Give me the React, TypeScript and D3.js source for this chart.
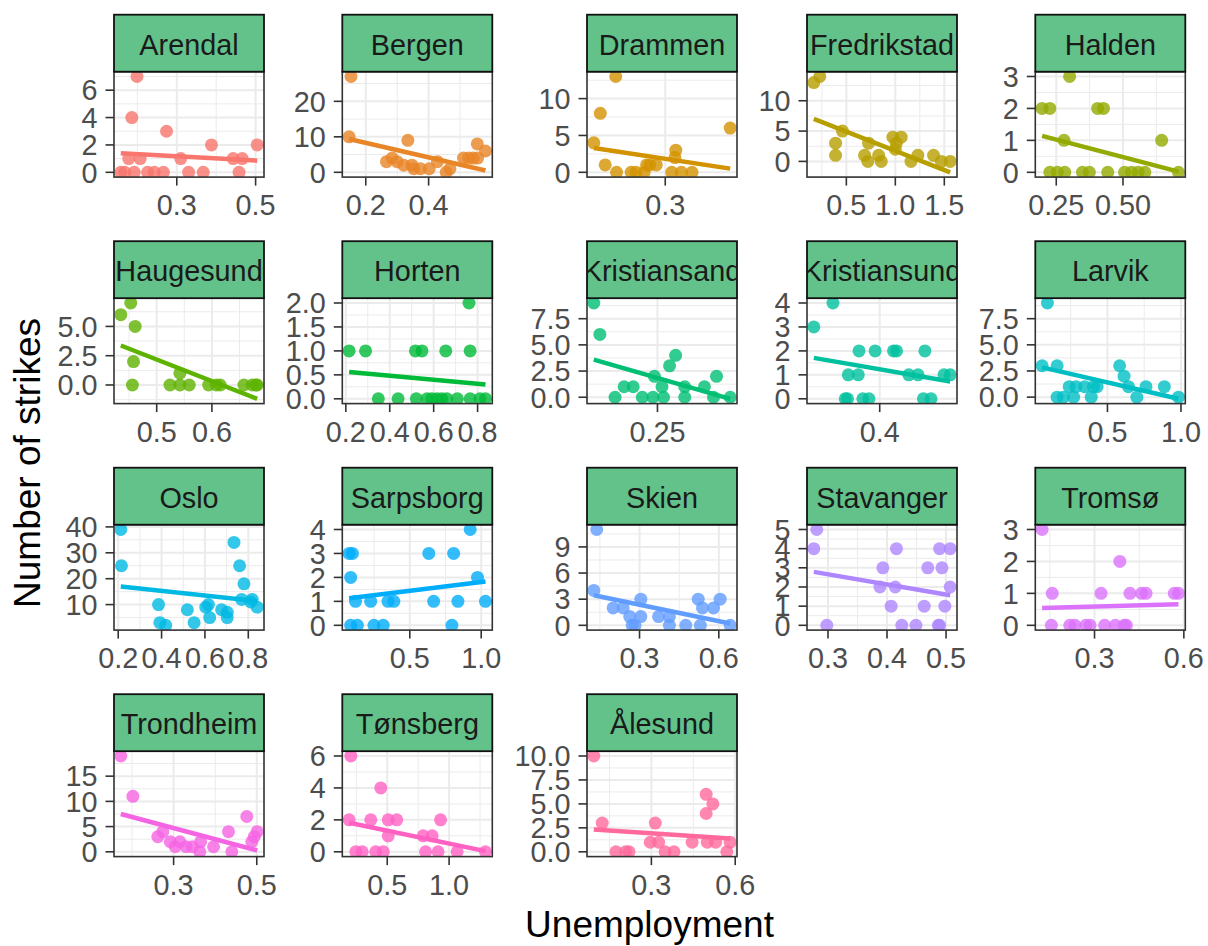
import React from 'react';
import * as d3 from 'd3';

const cities = ['Arendal','Bergen','Drammen','Fredrikstad','Halden','Haugesund','Horten','Kristiansand','Kristiansund','Larvik','Oslo','Sarpsborg','Skien','Stavanger','Tromsø','Trondheim','Tønsberg','Ålesund'];

const unemployment: number[][] = [
  [0.199,0.186,0.274,0.388,0.504,0.178,0.207,0.310,0.443,0.466,0.158,0.168,0.192,0.226,0.243,0.266,0.330,0.367,0.458],
  [0.153,0.147,0.334,0.555,0.581,0.266,0.284,0.300,0.321,0.347,0.353,0.374,0.402,0.428,0.456,0.468,0.511,0.528,0.542,0.556],
  [0.212,0.220,0.239,0.226,0.240,0.258,0.264,0.274,0.277,0.281,0.289,0.308,0.320,0.333,0.313,0.312,0.380],
  [0.168,0.229,0.46,0.39,0.39,0.686,0.72,0.727,0.83,0.856,0.975,1.06,1.01,1.0,1.16,1.23,1.39,1.47,1.56],
  [0.30,0.197,0.226,0.405,0.427,0.279,0.645,0.226,0.254,0.282,0.348,0.374,0.443,0.506,0.532,0.557,0.582,0.708],
  [0.435,0.453,0.461,0.458,0.456,0.524,0.542,0.559,0.542,0.594,0.608,0.615,0.658,0.673,0.680,0.682],
  [0.215,0.29,0.517,0.547,0.655,0.766,0.761,0.348,0.438,0.521,0.570,0.592,0.615,0.637,0.66,0.708,0.766,0.811,0.836],
  [0.208,0.212,0.222,0.228,0.234,0.240,0.247,0.254,0.248,0.253,0.258,0.262,0.268,0.268,0.281,0.289,0.287,0.298],
  [0.314,0.339,0.355,0.358,0.359,0.372,0.373,0.378,0.386,0.394,0.418,0.422,0.438,0.45,0.459,0.457,0.467,0.484,0.492],
  [0.092,0.056,0.158,0.158,0.2,0.24,0.286,0.345,0.405,0.43,0.27,0.39,0.583,0.613,0.643,0.70,0.762,0.887,0.983],
  [0.212,0.215,0.386,0.392,0.419,0.519,0.55,0.604,0.616,0.622,0.677,0.703,0.703,0.734,0.760,0.780,0.769,0.818,0.811,0.841],
  [0.075,0.098,0.086,0.12,0.086,0.133,0.226,0.249,0.314,0.347,0.388,0.633,0.667,0.807,0.795,0.837,0.923,0.974,1.03],
  [0.138,0.127,0.2,0.238,0.263,0.272,0.283,0.305,0.305,0.372,0.413,0.413,0.475,0.522,0.53,0.538,0.58,0.605,0.643],
  [0.281,0.276,0.298,0.393,0.388,0.416,0.414,0.407,0.425,0.449,0.463,0.469,0.487,0.489,0.489,0.493,0.498,0.507,0.507],
  [0.124,0.158,0.155,0.217,0.234,0.271,0.285,0.322,0.334,0.37,0.4,0.407,0.385,0.419,0.458,0.473,0.568,0.582],
  [0.173,0.202,0.262,0.274,0.292,0.304,0.315,0.33,0.345,0.365,0.363,0.396,0.432,0.44,0.476,0.488,0.494,0.501],
  [0.206,0.192,0.246,0.298,0.367,0.448,0.407,0.468,0.508,0.508,0.577,0.79,0.863,0.81,0.911,0.931,1.065,1.294],
  [0.094,0.124,0.173,0.208,0.22,0.314,0.296,0.326,0.349,0.381,0.446,0.496,0.496,0.52,0.5,0.53,0.57,0.582],
];

const strikes: number[][] = [
  [7,4,3,2,2,1,1,1,1,1,0,0,0,0,0,0,0,0,0],
  [27,10,9,8,6,3,4,3,2,2,1,1,1,3,0,1,4,4,4,4],
  [4,8,13,1,0,0,0,0,1,1,1,0,0,0,3,2,6],
  [13,14,5,3,1,1,0,3,1,0,4,4,3,2,0,1,1,0,0],
  [3,2,2,2,2,1,1,0,0,0,0,0,0,0,0,0,0,0],
  [6,7,5,2,0,0,0,0,1,0,0,0,0,0,0,0],
  [1,1,1,1,1,1,2,0,0,0,0,0,0,0,0,0,0,0,0],
  [9,6,0,1,1,0,0,0,2,1,3,4,1,0,1,2,0,0],
  [3,4,0,0,1,1,2,0,0,2,2,2,1,1,2,0,0,1,1],
  [9,3,3,0,0,1,1,1,1,1,0,0,3,2,1,0,1,1,0],
  [39,25,10,3,2,8,3,9,10,5,8,7,5,34,25,18,12,12,11,9],
  [3,3,2,1,0,0,1,0,0,1,1,3,1,3,0,1,4,2,1],
  [11,4,2,2,1,0,0,3,1,1,1,0,0,3,0,2,2,3,0],
  [5,4,0,3,2,4,2,1,0,0,1,3,0,0,4,3,1,4,2],
  [3,1,0,0,0,0,0,1,0,0,0,0,2,1,1,1,1,1],
  [19,11,3,4,2,1,2,1,1,2,0,1,4,0,7,2,3,4],
  [6,2,0,0,2,4,0,0,1,2,2,1,1,0,0,2,0,0],
  [10,3,0,0,0,3,1,1,0,0,1,6,4,5,1,1,0,1],
];

// fitted line (lm) values at the smallest and largest unemployment of each city
const fitStart = [1.4, 9.4, 3.3, 7.0, 1.14, 3.37, 0.56, 3.6, 1.71, 2.84, 17, 1.13, 3.45, 2.79, 0.54, 7.5, 1.82, 2.33];
const fitEnd = [0.85, 0.5, 0.5, -1.8, 0.02, -1.18, 0.30, -0.15, 0.72, -0.16, 11.3, 1.83, 0.2, 1.57, 0.66, 0.26, 0.04, 1.39];

const xTickValues: number[][] = [
  [0.3,0.5],[0.2,0.4],[0.3],[0.5,1.0,1.5],[0.25,0.5],
  [0.5,0.6],[0.2,0.4,0.6,0.8],[0.25],[0.4],[0.5,1.0],
  [0.2,0.4,0.6,0.8],[0.5,1.0],[0.3,0.6],[0.3,0.4,0.5],[0.3,0.6],
  [0.3,0.5],[0.5,1.0],[0.3,0.6],
];
const yTickValues: number[][] = [
  [0,2,4,6],[0,10,20],[0,5,10],[0,5,10],[0,1,2,3],
  [0,2.5,5],[0,0.5,1,1.5,2],[0,2.5,5,7.5],[0,1,2,3,4],[0,2.5,5,7.5],
  [10,20,30,40],[0,1,2,3,4],[0,3,6,9],[0,1,2,3,4,5],[0,1,2,3],
  [0,5,10,15],[0,2,4,6],[0,2.5,5,7.5,10],
];

// layout
const W = 1208, H = 946;
const colLefts = [114, 342.3, 587, 807, 1035.3];
const rowTops = [14.7, 241.2, 467.7, 694.2];
const panelW = 150, stripH = 57, plotH = 105.4;
const FONT = "'Liberation Sans', Arial, sans-serif";

// R's hcl() (polar LUV) -> sRGB, as used by ggplot's hue palette
function hclR(h: number, c: number, l: number): string {
  const hr = (h * Math.PI) / 180;
  const U = c * Math.cos(hr), V = c * Math.sin(hr);
  const Xn = 95.047, Yn = 100, Zn = 108.883;
  const Y = Yn * (l > 8 ? Math.pow((l + 16) / 116, 3) : l / 903.3);
  const den = Xn + 15 * Yn + 3 * Zn;
  const un = (4 * Xn) / den, vn = (9 * Yn) / den;
  const u = U / (13 * l) + un, v = V / (13 * l) + vn;
  const X = (9 * Y * u) / (4 * v);
  const Z = -X / 3 - 5 * Y + (3 * Y) / v;
  const g = (t: number) => {
    const s = t > 0.0031308 ? 1.055 * Math.pow(t, 1 / 2.4) - 0.055 : 12.92 * t;
    return Math.round(Math.max(0, Math.min(1, s)) * 255);
  };
  const r = g((3.240479 * X - 1.53715 * Y - 0.498535 * Z) / 100);
  const gg = g((-0.969256 * X + 1.875992 * Y + 0.041556 * Z) / 100);
  const b = g((0.055648 * X - 0.204043 * Y + 1.057311 * Z) / 100);
  return d3.rgb(r, gg, b).formatHex();
}
const palette = cities.map((_, i) => hclR(15 + (360 / cities.length) * i, 100, 65));

function decimals(ticks: number[]) {
  return d3.max(ticks, (t) => {
    const s = String(t);
    const k = s.indexOf('.');
    return k < 0 ? 0 : s.length - k - 1;
  }) as number;
}

function minorBreaks(b: number[], dom: number[]) {
  if (b.length < 2) return [];
  const bd = b[1] - b[0];
  const bb = [...b];
  if (dom[0] < bb[0]) bb.unshift(bb[0] - bd);
  if (dom[1] > bb[bb.length - 1]) bb.push(bb[bb.length - 1] + bd);
  const out: number[] = [];
  for (let i = 0; i < bb.length - 1; i++) {
    const m = (bb[i] + bb[i + 1]) / 2;
    if (m >= dom[0] && m <= dom[1]) out.push(m);
  }
  return out;
}

function Panel({ i }: { i: number }) {
  const left = colLefts[i % 5];
  const top = rowTops[Math.floor(i / 5)];
  const py0 = top + stripH, py1 = py0 + plotH;
  const xs = unemployment[i], ys = strikes[i];
  const [xmin, xmax] = d3.extent(xs) as [number, number];
  const [ymin, ymax] = d3.extent([...ys, fitStart[i], fitEnd[i]]) as [number, number];
  const xp = (xmax - xmin) * 0.05, yp = (ymax - ymin) * 0.05;
  const xd = [xmin - xp, xmax + xp], yd = [ymin - yp, ymax + yp];
  const x = d3.scaleLinear().domain(xd).range([left, left + panelW]);
  const y = d3.scaleLinear().domain(yd).range([py1, py0]);
  const xt = xTickValues[i].filter((t) => t >= xd[0] && t <= xd[1]);
  const yt = yTickValues[i].filter((t) => t >= yd[0] && t <= yd[1]);
  const xMinor = minorBreaks(xt, xd), yMinor = minorBreaks(yt, yd);
  const fx = d3.format(`.${decimals(xTickValues[i])}f`);
  const fy = d3.format(`.${decimals(yTickValues[i])}f`);
  const col = palette[i];
  const line = d3.line<[number, number]>().x((d) => x(d[0])).y((d) => y(d[1]));
  const fit: [number, number][] = [[xmin, fitStart[i]], [xmax, fitEnd[i]]];
  const clipId = `clip-${i}`, sclipId = `sclip-${i}`;
  return (
    <g>
      <defs>
        <clipPath id={clipId}><rect x={left} y={py0} width={panelW} height={plotH} /></clipPath>
        <clipPath id={sclipId}><rect x={left} y={top} width={panelW} height={stripH} /></clipPath>
      </defs>
      <rect x={left} y={py0} width={panelW} height={plotH} fill="#FFFFFF" />
      <g clipPath={`url(#${clipId})`}>
        {xMinor.map((t, k) => <line key={`xm${k}`} x1={x(t)} x2={x(t)} y1={py0} y2={py1} stroke="#EBEBEB" strokeWidth={1} />)}
        {yMinor.map((t, k) => <line key={`ym${k}`} x1={left} x2={left + panelW} y1={y(t)} y2={y(t)} stroke="#EBEBEB" strokeWidth={1} />)}
        {xt.map((t, k) => <line key={`xM${k}`} x1={x(t)} x2={x(t)} y1={py0} y2={py1} stroke="#EBEBEB" strokeWidth={2} />)}
        {yt.map((t, k) => <line key={`yM${k}`} x1={left} x2={left + panelW} y1={y(t)} y2={y(t)} stroke="#EBEBEB" strokeWidth={2} />)}
        {xs.map((v, k) => <circle key={`p${k}`} cx={x(v)} cy={y(ys[k])} r={6.5} fill={col} fillOpacity={0.8} />)}
        <path d={line(fit) || ''} stroke={col} strokeWidth={4.5} fill="none" />
      </g>
      <rect x={left} y={py0} width={panelW} height={plotH} fill="none" stroke="#333333" strokeWidth={1.6} />
      {xt.map((t, k) => (
        <g key={`xt${k}`}>
          <line x1={x(t)} x2={x(t)} y1={py1} y2={py1 + 8.5} stroke="#333333" strokeWidth={1.6} />
          <text x={x(t)} y={py1 + 38} textAnchor="middle" fontSize={28.8} fill="#4D4D4D" fontFamily={FONT}>{fx(t)}</text>
        </g>
      ))}
      {yt.map((t, k) => (
        <g key={`yt${k}`}>
          <line x1={left - 8.5} x2={left} y1={y(t)} y2={y(t)} stroke="#333333" strokeWidth={1.6} />
          <text x={left - 16.5} y={y(t) + 10.3} textAnchor="end" fontSize={28.8} fill="#4D4D4D" fontFamily={FONT}>{fy(t)}</text>
        </g>
      ))}
      <rect x={left} y={top} width={panelW} height={stripH} fill="#62C28A" stroke="#111111" strokeWidth={1.8} />
      <g clipPath={`url(#${sclipId})`}>
        <text x={left + panelW / 2} y={top + 40} textAnchor="middle" fontSize={28.8} fill="#1A1A1A" fontFamily={FONT}>{cities[i]}</text>
      </g>
    </g>
  );
}

export default function App() {
  return (
    <svg width={W} height={H} style={{ position: 'absolute', left: 0, top: 0, background: '#FFFFFF' }}>
      <rect x={0} y={0} width={W} height={H} fill="#FFFFFF" />
      {cities.map((_, i) => <Panel key={i} i={i} />)}
      <text x={649.5} y={937} textAnchor="middle" fontSize={37} fill="#000000" fontFamily={FONT}>Unemployment</text>
      <text transform="translate(39.5,463) rotate(-90)" textAnchor="middle" fontSize={37} fill="#000000" fontFamily={FONT}>Number of strikes</text>
    </svg>
  );
}
